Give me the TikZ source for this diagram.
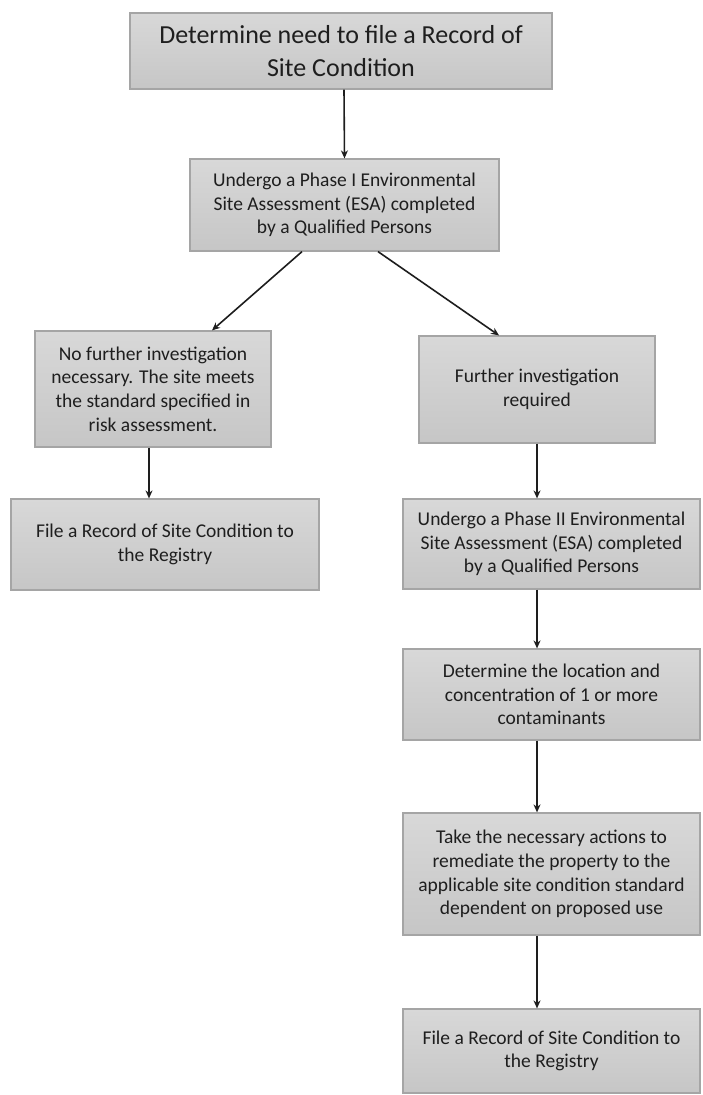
\documentclass[tikz,border=0pt]{standalone}
\usepackage{fontspec}
\setmainfont{Carlito}
\usetikzlibrary{arrows.meta}

\definecolor{boxtop}{RGB}{216,216,216}
\definecolor{boxbot}{RGB}{198,198,198}
\definecolor{boxline}{RGB}{165,165,165}
\definecolor{ink}{RGB}{30,30,30}

\tikzset{
  stage/.style={draw=boxline, line width=1.2pt, top color=boxtop, bottom color=boxbot,
    align=center, text=ink, inner sep=0pt,
    font=\fontsize{19.5}{23.7}\selectfont},
  flow/.style={-{Stealth[length=8pt,width=7pt]}, line width=1.6pt, draw=ink}
}

\begin{document}
\begin{tikzpicture}[x=1pt, y=-1pt]
    \useasboundingbox (0,0) rectangle (702,1095);

    \node[stage, minimum width=422pt, minimum height=76pt,
          font=\fontsize{26}{33}\selectfont] (need) at (341,51)
          {Determine need to file a Record of\\Site Condition};
    \node[stage, minimum width=309pt, minimum height=92pt] (phaseone) at (344.5,205)
          {Undergo a Phase I Environmental\\Site Assessment (ESA) completed\\by a Qualified Persons};

    \node[stage, minimum width=236pt, minimum height=116pt] (nofurther) at (153,389)
          {No further investigation\\necessary. The site meets\\the standard specified in\\risk assessment.};
    \node[stage, minimum width=308pt, minimum height=91pt] (fileleft) at (165,544.5)
          {File a Record of Site Condition to\\the Registry};

    \node[stage, minimum width=236pt, minimum height=107pt] (further) at (537,389.5)
          {Further investigation\\required};
    \node[stage, minimum width=297pt, minimum height=90pt] (phasetwo) at (551.5,544)
          {Undergo a Phase II Environmental\\Site Assessment (ESA) completed\\by a Qualified Persons};
    \node[stage, minimum width=297pt, minimum height=91pt] (locate) at (551.5,694.5)
          {Determine the location and\\concentration of 1 or more\\contaminants};
    \node[stage, minimum width=297pt, minimum height=122pt] (remediate) at (551.5,874)
          {Take the necessary actions to\\remediate the property to the\\applicable site condition standard\\dependent on proposed use};
    \node[stage, minimum width=297pt, minimum height=84pt] (fileright) at (551.5,1051)
          {File a Record of Site Condition to\\the Registry};

    \draw[flow] ([xshift=3pt]need.south) -- (phaseone.north);
    \draw[flow] ([xshift=-42.5pt]phaseone.south) -- ([xshift=59pt]nofurther.north);
    \draw[flow] ([xshift=33.5pt]phaseone.south) -- ([xshift=-38pt]further.north);
    \draw[flow] ([xshift=-4pt]nofurther.south) -- ([xshift=-16pt]fileleft.north);

    \draw[flow] (further.south) -- ([xshift=-14.5pt]phasetwo.north);
    \foreach \a/\b in {phasetwo/locate, locate/remediate, remediate/fileright}
    \draw[flow] ([xshift=-14.5pt]\a.south) -- ([xshift=-14.5pt]\b.north);

\end{tikzpicture}
\end{document}
